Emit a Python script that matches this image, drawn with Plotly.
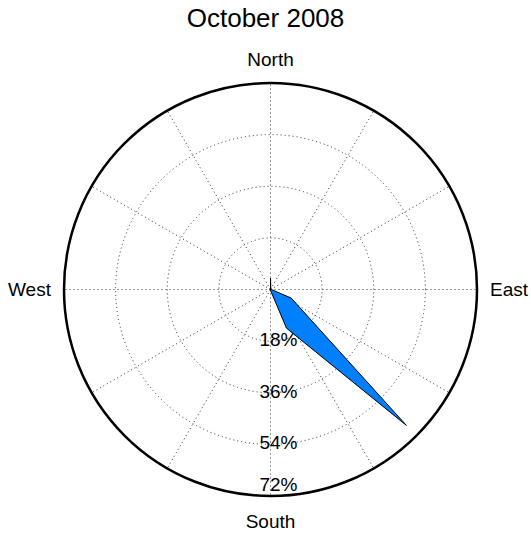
import plotly.graph_objects as go

# Wind direction bins (compass degrees, clockwise from north)
directions = [0, 22.5, 45, 67.5, 90, 112.5, 135, 157.5,
              180, 202.5, 225, 247.5, 270, 292.5, 315, 337.5]
# Frequency (%) per direction
frequency = [4.0, 0.3, 0.0, 0.0, 0.3, 7.8, 67.0, 14.6,
             0.3, 0.0, 0.0, 0.0, 0.2, 0.0, 0.3, 0.0]

ring_values = [18, 36, 54, 72]
ring_labels = ["18%", "36%", "54%", "72%"]

spoke_angles = list(range(0, 360, 30))
cardinal_text = {0: "North", 90: "East", 180: "South", 270: "West"}
spoke_text = [cardinal_text.get(a, "") for a in spoke_angles]

title_text = "October 2008"

FONT = "Liberation Sans, Arial, sans-serif"
GRID = "rgba(30,30,30,0.9)"

fig = go.Figure()

fig.add_trace(go.Scatterpolar(
    r=frequency + [frequency[0]],
    theta=directions + [directions[0]],
    mode="lines",
    fill="toself",
    fillcolor="rgb(0,128,255)",
    line=dict(color="black", width=1),
    hoverinfo="skip",
    showlegend=False,
))

fig.add_trace(go.Scatterpolar(
    r=ring_values,
    theta=[180] * len(ring_values),
    mode="text",
    text=["\u00a0\u00a0\u00a0" + t for t in ring_labels],
    textposition=["middle center", "middle center", "middle center", "top center"],
    textfont=dict(family=FONT, size=19, color="black"),
    hoverinfo="skip",
    showlegend=False,
))

fig.update_layout(
    width=531,
    height=533,
    margin=dict(l=63.5, r=53.5, t=82.5, b=36.5),
    paper_bgcolor="white",
    plot_bgcolor="white",
    title=dict(
        text=title_text,
        x=0.5, xanchor="center",
        y=1 - 18 / 533, yanchor="middle", yref="container",
        font=dict(family=FONT, size=26, color="black"),
    ),
    polar=dict(
        bgcolor="white",
        domain=dict(x=[0, 1], y=[0, 1]),
        radialaxis=dict(
            range=[0, 72],
            tickvals=ring_values,
            showticklabels=False,
            ticks="",
            showline=False,
            showgrid=True,
            gridcolor=GRID,
            griddash="1px,3px",
            gridwidth=1,
        ),
        angularaxis=dict(
            rotation=90,
            direction="clockwise",
            tickmode="array",
            tickvals=spoke_angles,
            ticktext=spoke_text,
            ticks="outside",
            ticklen=8,
            tickcolor="rgba(0,0,0,0)",
            showline=True,
            linecolor="black",
            linewidth=2.5,
            showgrid=True,
            gridcolor=GRID,
            griddash="1px,3px",
            gridwidth=1,
            tickfont=dict(family=FONT, size=19, color="black"),
        ),
    ),
)

fig.write_html(
    "out.html",
    config={"displayModeBar": False},
    post_script="document.body.style.margin='0px';document.body.style.overflow='hidden';",
)
